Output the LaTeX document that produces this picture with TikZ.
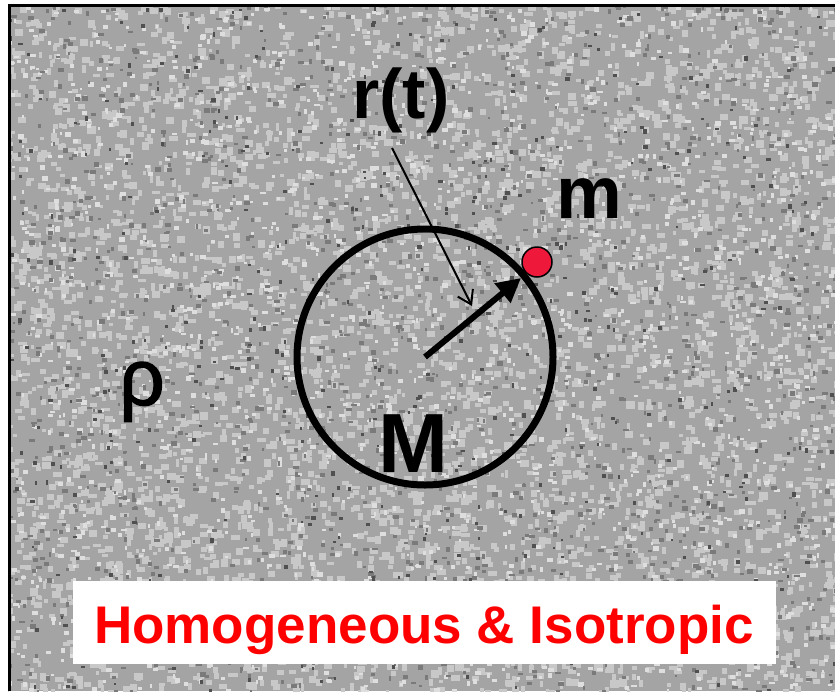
\documentclass[tikz,border=0pt]{standalone}
\usepackage{fontspec}
\setmainfont{Liberation Sans}
\newfontfamily\rhofont[FakeBold=1.6]{Liberation Sans}
\usetikzlibrary{arrows.meta}
\definecolor{dotred}{RGB}{238,24,58}
\definecolor{txtred}{RGB}{255,0,0}
\definecolor{bggray}{RGB}{164,164,164}
\definecolor{lightspeck}{RGB}{200,200,200}
\definecolor{palespeck}{RGB}{222,222,222}
\definecolor{midspeck}{RGB}{122,122,122}
\definecolor{darkspeck}{RGB}{80,80,80}
\tikzset{
  lbl/.style={inner sep=0pt, anchor=base, text=black},
  bigring/.style={circle, draw=black, line width=7pt, minimum size=256pt, inner sep=0pt},
  massdot/.style={circle, draw=black, line width=1.5pt, fill=dotred, minimum size=30pt, inner sep=0pt},
  thickarrow/.style={line width=6pt, -{Triangle[length=24pt,width=24pt]}},
  thinarrow/.style={line width=2pt, -{Straight Barb[length=13pt,width=17pt,line width=2pt]}},
}
\begin{document}
\begin{tikzpicture}[x=1pt,y=-1pt]
\useasboundingbox (0,0) rectangle (835,691);
\fill[white] (0,0) rectangle (835,691);
% noisy background
\begin{scope}
\clip (8,4) rectangle (835,691);
\fill[bggray] (8,4) rectangle (835,691);
\pgfmathsetseed{4242}
\foreach \i in {1,...,4600}{\fill[lightspeck] (4+rnd*835, rnd*691) rectangle ++(3+rnd*6, 3+rnd*5);}
\foreach \i in {1,...,1800}{\fill[palespeck] (4+rnd*835, rnd*691) rectangle ++(2+rnd*4, 2+rnd*3);}
\foreach \i in {1,...,1500}{\fill[midspeck] (4+rnd*835, rnd*691) rectangle ++(2+rnd*4, 2+rnd*3);}
\foreach \i in {1,...,500}{\fill[darkspeck] (4+rnd*835, rnd*691) rectangle ++(2+rnd*2.5, 2+rnd*2.5);}
\end{scope}
% frame
\draw[line width=3pt] (9.5,691) -- (9.5,5.5) -- (835,5.5);
% main elements
\node[bigring] (ring) at (425,357) {};
\coordinate (O) at (425,357);
\node[massdot] (mdot) at (537,262) {};
\coordinate (tip) at (521,278);
\draw[thickarrow] (O) -- (tip);
\node[lbl, font=\bfseries\fontsize{70}{70}\selectfont] (rt) at (401,118) {r(t)};
\coordinate (rstart) at (392,148);
\coordinate (rtip) at (472,306);
\draw[thinarrow] (rstart) -- (rtip);
\node[lbl, font=\bfseries\fontsize{74}{74}\selectfont] (m) at (589,218) {m};
\node[lbl, font=\rhofont\fontsize{80}{80}\selectfont] (rho) at (142,405) {ρ};
\node[lbl, font=\bfseries\fontsize{84}{84}\selectfont] (M) at (413,472) {M};
% caption box
\node[fill=white, minimum width=703pt, minimum height=83pt, inner sep=0pt] (box) at (424.5,622.5) {};
\node[lbl, text=txtred, font=\bfseries\fontsize{53}{53}\selectfont] (cap) at (424,643) {Homogeneous \& Isotropic};
\end{tikzpicture}
\end{document}
